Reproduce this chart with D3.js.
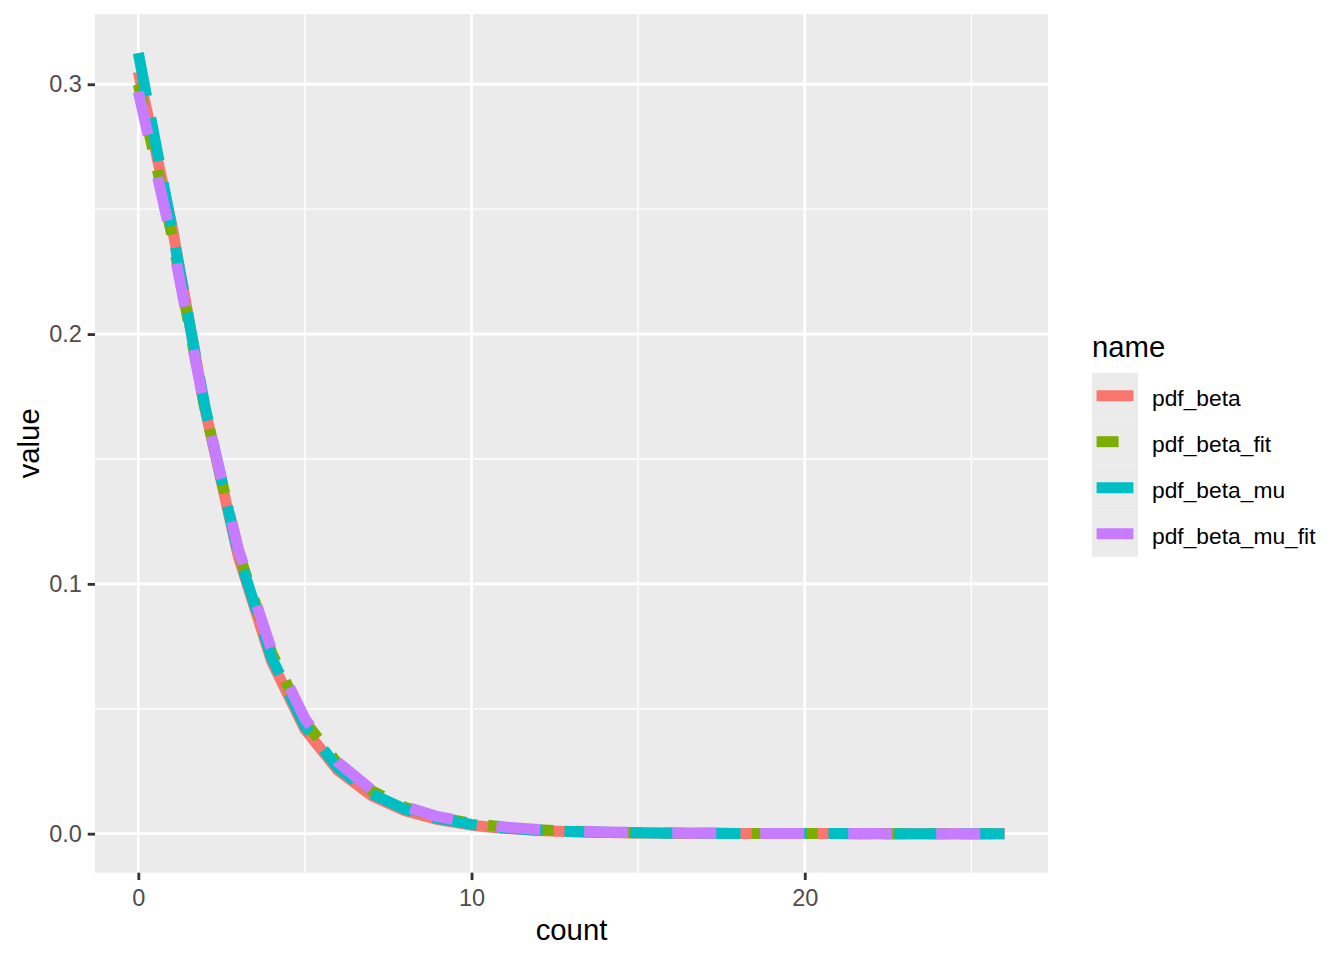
<!DOCTYPE html>
<html>
<head>
<meta charset="utf-8">
<script src="https://cdn.jsdelivr.net/npm/d3@7"></script>
<style>
  html, body { margin: 0; padding: 0; background: #ffffff; }
  svg { display: block; font-family: "Liberation Sans", Arial, sans-serif; }
</style>
</head>
<body>
<svg id="chart" width="1344" height="960"></svg>
<script>
// ---- data ----
const counts = d3.range(0, 27);
const seriesNames = ["pdf_beta", "pdf_beta_fit", "pdf_beta_mu", "pdf_beta_mu_fit"];
const pdf_beta        = [0.305, 0.244, 0.170, 0.111, 0.0690, 0.0418, 0.0252, 0.0152, 0.0092, 0.0056, 0.0034, 0.0021, 0.0013, 0.0008, 0.0005, 0.0003, 0.0002, 0.00012, 0.00008, 0.00005, 0.00003, 0.00002, 0.00001, 0.00001, 0.000005, 0.000003, 0.000002];
const pdf_beta_fit    = [0.300, 0.240, 0.170, 0.113, 0.0725, 0.0450, 0.0278, 0.0172, 0.0106, 0.0066, 0.0041, 0.0026, 0.0016, 0.0010, 0.0006, 0.0004, 0.00025, 0.00015, 0.0001, 0.00006, 0.00004, 0.00002, 0.00001, 0.00001, 0.000006, 0.000004, 0.000002];
const pdf_beta_mu     = [0.3125, 0.243, 0.171, 0.112, 0.0705, 0.0430, 0.0262, 0.0160, 0.0098, 0.0060, 0.0037, 0.0023, 0.0014, 0.0009, 0.00055, 0.00034, 0.00021, 0.00013, 0.00008, 0.00005, 0.00003, 0.00002, 0.00001, 0.00001, 0.000005, 0.000003, 0.000002];
const pdf_beta_mu_fit = [0.297, 0.238, 0.170, 0.114, 0.0735, 0.0460, 0.0285, 0.0176, 0.0109, 0.0068, 0.0043, 0.0027, 0.0017, 0.0011, 0.0007, 0.00045, 0.0003, 0.0002, 0.00012, 0.00008, 0.00005, 0.00003, 0.00002, 0.00001, 0.000007, 0.000004, 0.000002];
const xTicks = [0, 10, 20];
const xMinor = [5, 15, 25];
const yTicks = [0.0, 0.1, 0.2, 0.3];
const yMinor = [0.05, 0.15, 0.25];
const yTickLabels = ["0.0", "0.1", "0.2", "0.3"];
const xLabel = "count", yLabel = "value", legendTitle = "name";

const seriesValues = [pdf_beta, pdf_beta_fit, pdf_beta_mu, pdf_beta_mu_fit];
const colors = ["#F8766D", "#7CAE00", "#00BFC4", "#C77CFF"];
const LW = 11;
const dashes = [null, `${2*LW},${2*LW}`, `${4*LW},${2*LW}`, `${4*LW},${4*LW}`];

// ---- layout ----
const P = { left: 95, right: 1048, top: 14, bottom: 872.7 };
const svg = d3.select("#chart");

const xExt = d3.extent(counts);
const xPad = (xExt[1] - xExt[0]) * 0.05;
const allVals = seriesValues.flat();
const yExt = [0, d3.max(allVals)];
const yPad = (yExt[1] - yExt[0]) * 0.05;
const x = d3.scaleLinear().domain([xExt[0] - xPad, xExt[1] + xPad]).range([P.left, P.right]);
const y = d3.scaleLinear().domain([yExt[0] - yPad, yExt[1] + yPad]).range([P.bottom, P.top]);

// panel
svg.append("rect").attr("x", P.left).attr("y", P.top)
  .attr("width", P.right - P.left).attr("height", P.bottom - P.top).attr("fill", "#EBEBEB");

const grid = svg.append("g");
grid.selectAll(".xmin").data(xMinor).join("line")
  .attr("x1", d => x(d)).attr("x2", d => x(d)).attr("y1", P.top).attr("y2", P.bottom)
  .attr("stroke", "#fff").attr("stroke-width", 1.42);
grid.selectAll(".ymin").data(yMinor).join("line")
  .attr("y1", d => y(d)).attr("y2", d => y(d)).attr("x1", P.left).attr("x2", P.right)
  .attr("stroke", "#fff").attr("stroke-width", 1.42);
grid.selectAll(".xmaj").data(xTicks).join("line")
  .attr("x1", d => x(d)).attr("x2", d => x(d)).attr("y1", P.top).attr("y2", P.bottom)
  .attr("stroke", "#fff").attr("stroke-width", 2.84);
grid.selectAll(".ymaj").data(yTicks).join("line")
  .attr("y1", d => y(d)).attr("y2", d => y(d)).attr("x1", P.left).attr("x2", P.right)
  .attr("stroke", "#fff").attr("stroke-width", 2.84);

// lines
const line = d3.line().x((d, i) => x(counts[i])).y(d => y(d));
seriesValues.forEach((vals, si) => {
  svg.append("path").datum(vals)
    .attr("d", line)
    .attr("fill", "none")
    .attr("stroke", colors[si])
    .attr("stroke-width", LW)
    .attr("stroke-linecap", "butt")
    .attr("stroke-linejoin", "round")
    .attr("stroke-dasharray", dashes[si]);
});

// axes
const xAxis = svg.append("g").attr("transform", `translate(0,${P.bottom})`)
  .call(d3.axisBottom(x).tickValues(xTicks).tickSize(7.3).tickPadding(7.9).tickFormat(d3.format("d")));
const yAxis = svg.append("g").attr("transform", `translate(${P.left},0)`)
  .call(d3.axisLeft(y).tickValues(yTicks).tickSize(7.3).tickPadding(5.9).tickFormat((d, i) => yTickLabels[i]));
[xAxis, yAxis].forEach(a => {
  a.select(".domain").remove();
  a.selectAll(".tick line").attr("stroke", "#333333").attr("stroke-width", 2.84);
  a.selectAll(".tick text").attr("fill", "#4D4D4D").attr("font-size", "23.5px")
    .attr("font-family", "Liberation Sans, Arial, sans-serif");
});
xAxis.selectAll(".tick text").attr("dy", "0.76em");

// axis titles
svg.append("text").attr("x", (P.left + P.right) / 2).attr("y", 940)
  .attr("text-anchor", "middle").attr("font-size", "29.3px").attr("fill", "#000").text(xLabel);
svg.append("text").attr("transform", `translate(39,${(P.top + P.bottom) / 2}) rotate(-90)`)
  .attr("text-anchor", "middle").attr("font-size", "29.3px").attr("fill", "#000").text(yLabel);

// legend
const L = { x: 1092, titleY: 356.5, keyTop: 372.7, key: 46 };
svg.append("text").attr("x", L.x).attr("y", L.titleY).attr("font-size", "29.3px").attr("fill", "#000").text(legendTitle);
const lg = svg.append("g");
seriesNames.forEach((name, i) => {
  const ky = L.keyTop + i * L.key;
  lg.append("rect").attr("x", L.x).attr("y", ky).attr("width", L.key).attr("height", L.key).attr("fill", "#EBEBEB");
  lg.append("line").attr("x1", L.x + L.key * 0.1).attr("x2", L.x + L.key * 0.9)
    .attr("y1", ky + L.key / 2).attr("y2", ky + L.key / 2)
    .attr("stroke", colors[i]).attr("stroke-width", LW).attr("stroke-linecap", "butt")
    .attr("stroke-dasharray", dashes[i]);
  lg.append("text").attr("x", 1152).attr("y", ky + L.key / 2 + 10)
    .attr("font-size", "22.8px").attr("fill", "#000").text(name);
});
</script>
</body>
</html>
